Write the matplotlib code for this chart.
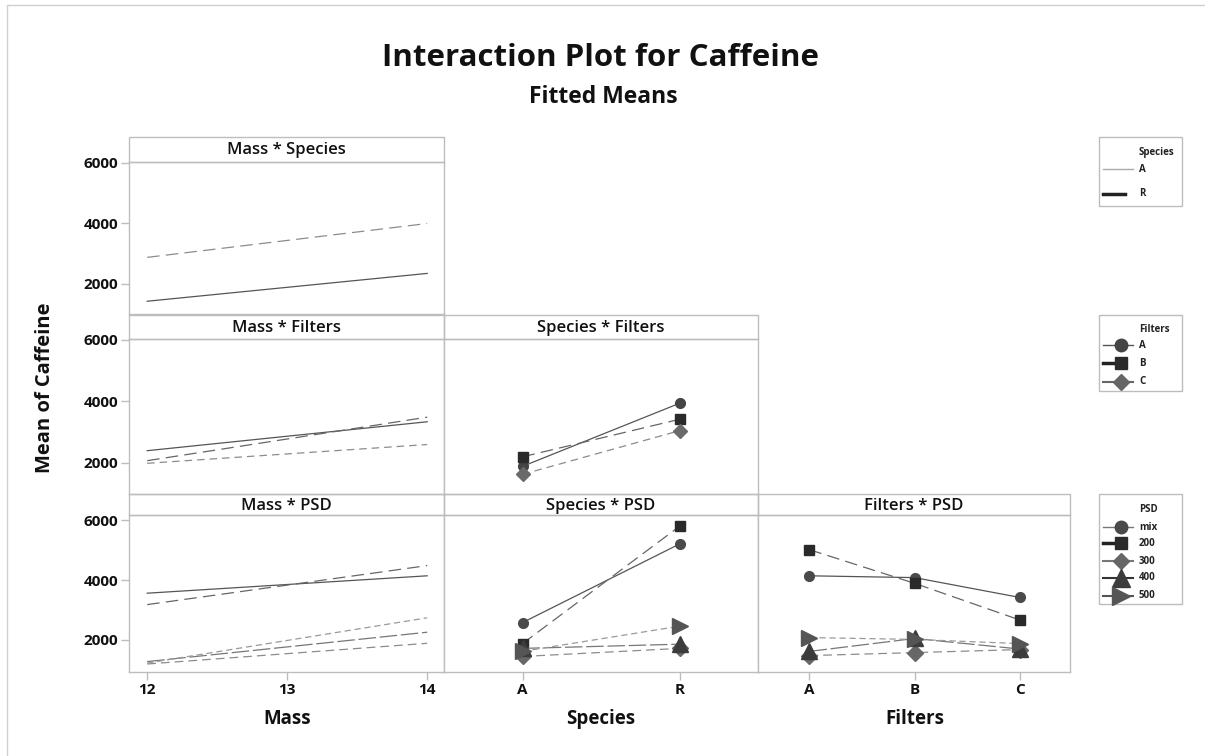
import matplotlib
matplotlib.use("Agg")
import matplotlib.pyplot as plt
from matplotlib.patches import Rectangle

plt.rcParams['font.family'] = ['Open Sans', 'DejaVu Sans']

W, H = 1205, 756

# levels
mass = [12, 13, 14]
species = ['A', 'R']
filters = ['A', 'B', 'C']
psd = ['mix', '200', '300', '400', '500']

# Mass * Species (fitted means at mass 12, 13, 14)
ms_A = [1430, 1890, 2350]
ms_R = [2880, 3440, 4000]

# Mass * Filters
mf_A = [2400, 2870, 3340]
mf_B = [2075, 2780, 3490]
mf_C = [1990, 2295, 2600]

# Species * Filters (species A, R)
sf_A = [1890, 3940]
sf_B = [2200, 3420]
sf_C = [1630, 3050]

# Mass * PSD
mp_mix = [3560, 3850, 4140]
mp_200 = [3180, 3830, 4480]
mp_300 = [1200, 1545, 1890]
mp_400 = [1280, 1770, 2260]
mp_500 = [1230, 1985, 2740]

# Species * PSD
sp_mix = [2580, 5200]
sp_200 = [1880, 5790]
sp_300 = [1450, 1720]
sp_400 = [1720, 1860]
sp_500 = [1620, 2460]

# Filters * PSD
fp_mix = [4140, 4080, 3420]
fp_200 = [5010, 3890, 2670]
fp_300 = [1480, 1580, 1680]
fp_400 = [1620, 2050, 1700]
fp_500 = [2080, 2020, 1880]

# styles
sty_species = {'A': dict(color='#555555', ls='-'),
               'R': dict(color='#8c8c8c', ls=(0, (10, 5)))}
sty_filters = {'A': dict(color='#555555', ls='-', marker='o', mfc='#444444', ms=7),
               'B': dict(color='#666666', ls=(0, (10, 5)), marker='s', mfc='#2a2a2a', ms=7),
               'C': dict(color='#8c8c8c', ls=(0, (6, 4)), marker='D', mfc='#6a6a6a', ms=7)}
sty_psd = {'mix': dict(color='#555555', ls='-', marker='o', mfc='#4a4a4a', ms=7),
           '200': dict(color='#666666', ls=(0, (10, 5)), marker='s', mfc='#2a2a2a', ms=7),
           '300': dict(color='#8c8c8c', ls=(0, (7, 4)), marker='D', mfc='#676767', ms=8),
           '400': dict(color='#777777', ls=(0, (14, 3)), marker='^', mfc='#3c3c3c', ms=11),
           '500': dict(color='#9a9a9a', ls=(0, (5, 3)), marker='>', mfc='#555555', ms=11)}

SPINE = '#bdbdbd'
INK = '#111111'

fig = plt.figure(figsize=(W / 100, H / 100), dpi=100)

cols = [(129, 444), (444, 758), (758, 1070)]
rows = [(137, 162, 314, 1008, 6033),
        (315, 339, 494, 992, 6030),
        (494, 515, 672, 933, 6167)]
xlims = [(11.87, 14.12), (-0.5, 1.5), (-0.49, 2.48)]

headers = []


def panel(row, col, title):
    x0, x1 = cols[col]
    top, hb, bot, y0, y1 = rows[row]
    ax = fig.add_axes([x0 / W, 1 - bot / H, (x1 - x0) / W, (bot - hb) / H])
    ax.set_xlim(*xlims[col])
    ax.set_ylim(y0, y1)
    for s in ax.spines.values():
        s.set_color(SPINE)
        s.set_linewidth(1)
    ax.set_yticks([2000, 4000, 6000])
    ax.tick_params(colors=SPINE, length=6, width=1, labelcolor=INK,
                   labelsize=11, pad=2)
    for lab in ax.get_yticklabels() + ax.get_xticklabels():
        lab.set_fontweight('bold')
    if col != 0:
        ax.tick_params(left=False, labelleft=False)
    if row != 2:
        ax.tick_params(bottom=False, labelbottom=False)
    headers.append((x0, x1, top, hb, title))
    return ax


def draw(ax, xs, ys, st, markers=True):
    kw = dict(st)
    mk = kw.pop('marker', None)
    mfc = kw.pop('mfc', None)
    ms = kw.pop('ms', None)
    if markers and mk:
        ax.plot(xs, ys, lw=0.9, marker=mk, mfc=mfc, mec=mfc, ms=ms, **kw)
    else:
        ax.plot(xs, ys, lw=0.9, **kw)


# row 1
ax = panel(0, 0, 'Mass * Species')
draw(ax, mass, ms_A, sty_species['A'])
draw(ax, mass, ms_R, sty_species['R'])

# row 2
ax = panel(1, 0, 'Mass * Filters')
for f, ys in zip(filters, [mf_A, mf_B, mf_C]):
    draw(ax, mass, ys, sty_filters[f], markers=False)
ax = panel(1, 1, 'Species * Filters')
for f, ys in zip(filters, [sf_A, sf_B, sf_C]):
    draw(ax, range(len(species)), ys, sty_filters[f])

# row 3
ax = panel(2, 0, 'Mass * PSD')
for p, ys in zip(psd, [mp_mix, mp_200, mp_300, mp_400, mp_500]):
    draw(ax, mass, ys, sty_psd[p], markers=False)
ax.set_xticks(mass)
ax.set_xticklabels([str(m) for m in mass], fontweight='bold')

ax = panel(2, 1, 'Species * PSD')
for p, ys in zip(psd, [sp_mix, sp_200, sp_300, sp_400, sp_500]):
    draw(ax, range(len(species)), ys, sty_psd[p])
ax.set_xticks(range(len(species)))
ax.set_xticklabels(species, fontweight='bold')

ax = panel(2, 2, 'Filters * PSD')
for p, ys in zip(psd, [fp_mix, fp_200, fp_300, fp_400, fp_500]):
    draw(ax, range(len(filters)), ys, sty_psd[p])
ax.set_xticks(range(len(filters)))
ax.set_xticklabels(filters, fontweight='bold')

# overlay in pixel coordinates for headers, titles, legends
ov = fig.add_axes([0, 0, 1, 1], facecolor='none')
ov.set_xlim(0, W)
ov.set_ylim(H, 0)
ov.axis('off')

ov.plot([7, 7, W], [H, 5, 5], color='#d0d0d0', lw=1)

for x0, x1, top, hb, title in headers:
    ov.add_patch(Rectangle((x0, top), x1 - x0, hb - top, fill=False,
                           ec=SPINE, lw=1))
    ov.text((x0 + x1) / 2, (top + hb) / 2 + 1, title, ha='center', va='center',
            fontsize=12, fontweight='semibold', color=INK)

ov.text(601, 58, 'Interaction Plot for Caffeine', ha='center', va='center',
        fontsize=22.5, fontweight='bold', color=INK)
ov.text(603, 97, 'Fitted Means', ha='center', va='center',
        fontsize=16.5, fontweight='bold', color=INK)

ov.text(45, 388, 'Mean of Caffeine', ha='center', va='center', rotation=90,
        fontsize=14.5, fontweight='bold', color=INK)
for x, lab in [(287, 'Mass'), (601, 'Species'), (915, 'Filters')]:
    ov.text(x, 719, lab, ha='center', va='center', fontsize=13.5,
            fontweight='bold', color=INK)


# legends
def legend_box(top, bot, title, title_y, items):
    ov.add_patch(Rectangle((1099, top), 83, bot - top, fill=False,
                           ec=SPINE, lw=1))
    ov.text(1139, title_y, title, ha='left', va='center', fontsize=7,
            fontweight='bold', color='#222222')
    for y, lab, lkw, mk in items:
        ov.plot(lkw.pop('xs', [1103, 1133]), [y, y], **lkw)
        if mk:
            ov.plot([1121], [y], **mk)
        ov.text(1139, y, lab, ha='left', va='center', fontsize=7,
                fontweight='bold', color='#222222')


legend_box(137, 206, 'Species', 153, [
    (169, 'A', dict(color='#aaaaaa', lw=1), None),
    (194, 'R', dict(color='#222222', lw=2.5, xs=[1103, 1125]), None)])

fmk = {'A': dict(marker='o', ms=9, color='#444444'),
       'B': dict(marker='s', ms=9, color='#2a2a2a'),
       'C': dict(marker='D', ms=8, color='#666666')}
legend_box(315, 391, 'Filters', 330, [
    (345, 'A', dict(color='#555555', lw=1), fmk['A']),
    (363, 'B', dict(color='#222222', lw=2.5, xs=[1103, 1116]), fmk['B']),
    (382, 'C', dict(color='#666666', lw=1.5), fmk['C'])])

pmk = {'mix': dict(marker='o', ms=9, color='#4a4a4a'),
       '200': dict(marker='s', ms=9, color='#2a2a2a'),
       '300': dict(marker='D', ms=8, color='#666666'),
       '400': dict(marker='^', ms=13, color='#3c3c3c'),
       '500': dict(marker='>', ms=13, color='#555555')}
legend_box(494, 604, 'PSD', 510, [
    (527, 'mix', dict(color='#777777', lw=1), pmk['mix']),
    (543, '200', dict(color='#222222', lw=2.5, xs=[1103, 1116]), pmk['200']),
    (561, '300', dict(color='#777777', lw=1.5), pmk['300']),
    (578, '400', dict(color='#333333', lw=1.5), pmk['400']),
    (596, '500', dict(color='#555555', lw=1.5), pmk['500'])])

fig.savefig('out.png', dpi=100)
